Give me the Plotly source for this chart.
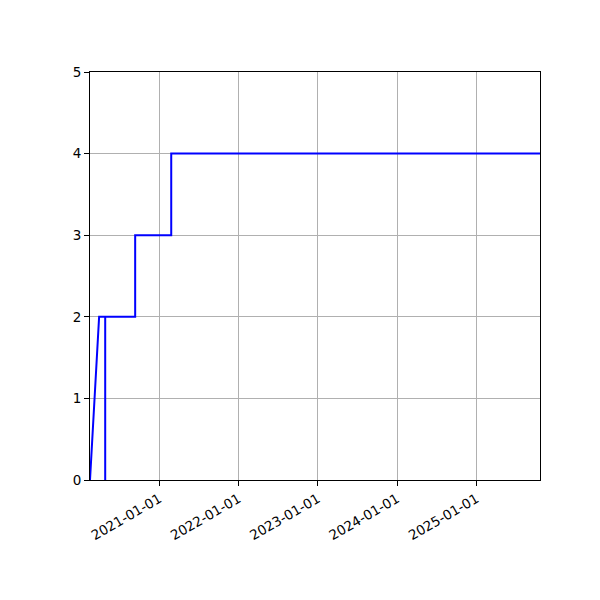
import plotly.graph_objects as go

# cumulative count over time
dates = ["2020-02-17", "2020-03-30", "2020-04-27", "2020-04-27", "2020-04-27",
         "2020-09-12", "2020-09-12", "2021-02-25", "2021-02-25", "2025-10-20"]
counts = [0, 2, 2, 0, 2, 2, 3, 3, 4, 4]

y_ticks = [0, 1, 2, 3, 4, 5]

fig = go.Figure()
fig.add_trace(go.Scatter(
    x=dates, y=counts, mode="lines",
    line=dict(color="blue", width=2),
    showlegend=False,
))

axis_style = dict(
    showline=True, linecolor="black", linewidth=1, mirror=True,
    ticks="outside", ticklen=5, tickcolor="black", tickwidth=1,
    showgrid=True, gridcolor="#b0b0b0", gridwidth=1,
    zeroline=False,
    tickfont=dict(family="DejaVu Sans", size=13.5, color="black"),
)

fig.update_xaxes(
    type="date", range=[dates[0], dates[-1]],
    tick0="2021-01-01", dtick="M12", tickformat="%Y-%m-%d",
    tickangle=-30, **axis_style,
)
fig.update_yaxes(range=[0, 5], tickvals=y_ticks, **axis_style)

fig.update_layout(
    width=600, height=600,
    margin=dict(l=82, r=68, t=64, b=128),
    paper_bgcolor="white", plot_bgcolor="white",
)

fig.write_html("out.html")
